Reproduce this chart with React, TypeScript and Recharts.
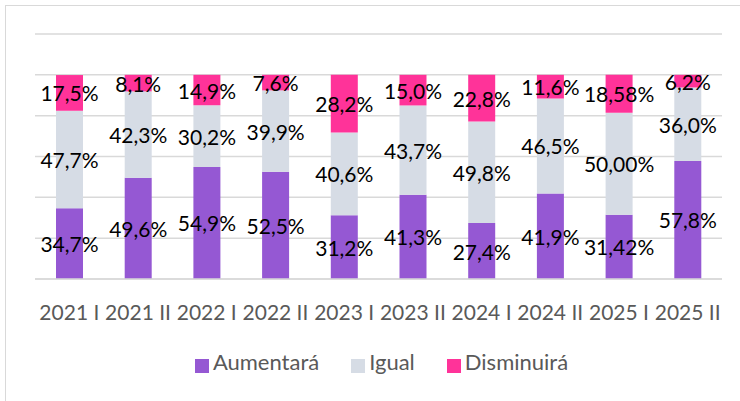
import React from 'react';
import { BarChart, Bar, XAxis, YAxis, CartesianGrid, Legend, LabelList } from 'recharts';

const categories = ['2021 I', '2021 II', '2022 I', '2022 II', '2023 I', '2023 II', '2024 I', '2024 II', '2025 I', '2025 II'];
const aumentara = [34.7, 49.6, 54.9, 52.5, 31.2, 41.3, 27.4, 41.9, 31.42, 57.8];
const igual = [47.7, 42.3, 30.2, 39.9, 40.6, 43.7, 49.8, 46.5, 50.0, 36.0];
const disminuira = [17.5, 8.1, 14.9, 7.6, 28.2, 15.0, 22.8, 11.6, 18.58, 6.2];
// decimals shown in the labels, per period
const decimals = [1, 1, 1, 1, 1, 1, 1, 1, 2, 1];
const yTicks = [0, 20, 40, 60, 80, 100, 120];
const seriesNames = ['Aumentará', 'Igual', 'Disminuirá'];

const data = categories.map((name, i) => ({
  name,
  aumentara: aumentara[i],
  igual: igual[i],
  disminuira: disminuira[i],
}));

const FONT = 'Lato, "Open Sans", sans-serif';

const fmt = (v: number, i: number) => v.toFixed(decimals[i]).replace('.', ',') + '%';

const renderLabel = (props: any) => {
  const { x, y, width, height, value, index } = props;
  return (
    <text
      x={Number(x) + Number(width) / 2}
      y={Number(y) + Number(height) / 2}
      textAnchor="middle"
      dominantBaseline="central"
      fill="#000"
      fontSize={21}
      fontFamily={FONT}
    >
      {fmt(Number(value), index)}
    </text>
  );
};

const legendText = (value: string) => (
  <span style={{ color: '#595959', fontSize: 22, fontFamily: FONT, marginRight: 22 }}>{value}</span>
);

const App: React.FC = () => {
  return (
    <div style={{ position: 'absolute', left: 0, top: 0, width: 740, height: 401, overflow: 'hidden', background: '#fff' }}>
      <div
        style={{
          position: 'absolute', left: 5, top: 5, width: 800, height: 500,
          borderLeft: '1.5px solid #d9d9d9', borderTop: '1.5px solid #d9d9d9',
        }}
      />
      <BarChart
        width={740}
        height={401}
        data={data}
        margin={{ top: 34, right: 18, left: 35, bottom: 26 }}
        barSize={27}
        style={{ position: 'absolute', left: 0, top: 0 }}
      >
        <CartesianGrid vertical={false} stroke="#d9d9d9" strokeWidth={1.5} />
        <YAxis hide domain={[0, 120]} ticks={yTicks} />
        <XAxis
          dataKey="name"
          height={69}
          tickLine={false}
          axisLine={{ stroke: '#d9d9d9', strokeWidth: 1.5 }}
          tickMargin={20}
          interval={0}
          tick={{ fill: '#595959', fontSize: 21, fontFamily: FONT }}
        />
        <Legend
          verticalAlign="bottom"
          iconType="square"
          iconSize={14}
          wrapperStyle={{ left: 54 }}
          itemSorter={(item: any) => seriesNames.indexOf(item.value)}
          formatter={legendText}
        />
        <Bar dataKey="aumentara" name="Aumentará" stackId="a" fill="#9558d3" isAnimationActive={false}>
          <LabelList dataKey="aumentara" content={renderLabel} />
        </Bar>
        <Bar dataKey="igual" name="Igual" stackId="a" fill="#d6dce5" isAnimationActive={false}>
          <LabelList dataKey="igual" content={renderLabel} />
        </Bar>
        <Bar dataKey="disminuira" name="Disminuirá" stackId="a" fill="#ff3399" isAnimationActive={false}>
          <LabelList dataKey="disminuira" content={renderLabel} />
        </Bar>
      </BarChart>
    </div>
  );
};

export default App;
